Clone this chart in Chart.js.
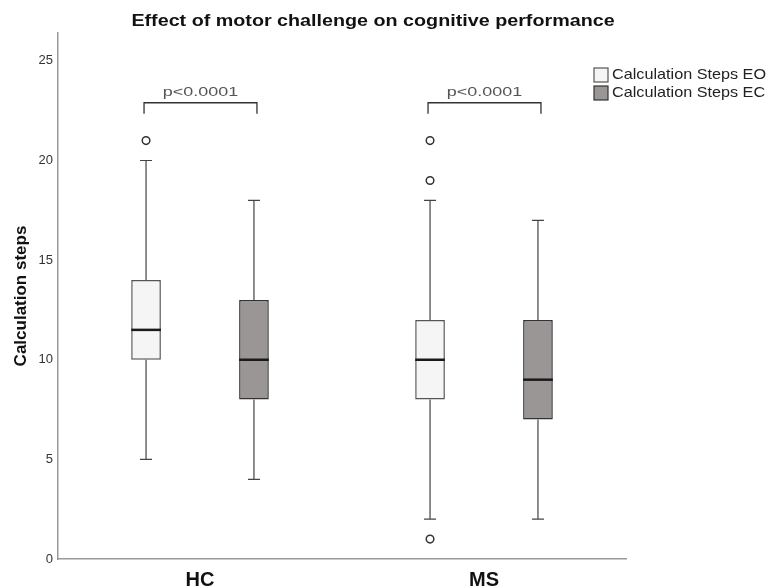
<!DOCTYPE html>
<html lang="en">
<head>
<meta charset="UTF-8">
<title>Effect of motor challenge on cognitive performance</title>
<script src="https://cdn.jsdelivr.net/npm/chart.js"></script>
<style>
    body { margin: 0; background: #fff; }
    #wrap { width: 771px; height: 587px; }
</style>
</head>
<body>
<div id="wrap"><canvas id="boxChart" width="771" height="587"></canvas></div>
<script>
    // groups and series
    const groups = ['HC', 'MS'];
    const seriesNames = ['Calculation Steps EO', 'Calculation Steps EC'];
    const yTicks = [0, 5, 10, 15, 20, 25];
    const pLabels = ['p<0.0001', 'p<0.0001'];

    // box statistics, one value per group (HC, MS)
    const eoLow = [5, 2];
    const eoQ1 = [10, 8];
    const eoMedian = [11.5, 10];
    const eoQ3 = [14, 12];
    const eoHigh = [20, 18];
    const eoOutliers = [[21], [21, 19, 1]];

    const ecLow = [4, 2];
    const ecQ1 = [8, 7];
    const ecMedian = [10, 9];
    const ecQ3 = [13, 12];
    const ecHigh = [18, 17];
    const ecOutliers = [[], []];

    const FONT = 'Arial, "Liberation Sans", sans-serif';

    function boxDataset(label, q1, q3, low, median, high, outliers, fill, border) {
        return {
            label: label,
            data: q1.map((v, i) => [v, q3[i]]),
            backgroundColor: fill,
            borderColor: border,
            borderWidth: 1.5,
            borderSkipped: false,
            categoryPercentage: 0.76,
            barPercentage: 0.275,
            stats: { low: low, median: median, high: high, outliers: outliers }
        };
    }

    // the source picture is a bit wider than tall, so text is stretched sideways
    function wideText(ctx, text, x, y, sx) {
        ctx.save();
        ctx.translate(x, y);
        ctx.scale(sx, 1);
        ctx.fillText(text, 0, 0);
        ctx.restore();
    }

    // whiskers, medians, outliers, brackets, legend and title
    const boxExtras = {
        id: 'boxExtras',
        afterDatasetsDraw(chart) {
            const ctx = chart.ctx;
            const y = chart.scales.y;
            ctx.save();
            chart.data.datasets.forEach((ds, d) => {
                const meta = chart.getDatasetMeta(d);
                meta.data.forEach((bar, i) => {
                    const x = bar.x;
                    const cap = 6;
                    const top = y.getPixelForValue(ds.data[i][1]);
                    const bottom = y.getPixelForValue(ds.data[i][0]);
                    const hi = y.getPixelForValue(ds.stats.high[i]);
                    const lo = y.getPixelForValue(ds.stats.low[i]);
                    ctx.strokeStyle = '#444';
                    ctx.lineWidth = 1.2;
                    ctx.beginPath();
                    ctx.moveTo(x, top); ctx.lineTo(x, hi);
                    ctx.moveTo(x - cap, hi); ctx.lineTo(x + cap, hi);
                    ctx.moveTo(x, bottom); ctx.lineTo(x, lo);
                    ctx.moveTo(x - cap, lo); ctx.lineTo(x + cap, lo);
                    ctx.stroke();

                    const med = y.getPixelForValue(ds.stats.median[i]);
                    ctx.strokeStyle = '#1a1a1a';
                    ctx.lineWidth = 2.5;
                    ctx.beginPath();
                    ctx.moveTo(bar.x - bar.width / 2, med);
                    ctx.lineTo(bar.x + bar.width / 2, med);
                    ctx.stroke();

                    ctx.strokeStyle = '#333';
                    ctx.fillStyle = '#fff';
                    ctx.lineWidth = 1.5;
                    ds.stats.outliers[i].forEach(v => {
                        ctx.beginPath();
                        ctx.arc(x, y.getPixelForValue(v), 3.8, 0, Math.PI * 2);
                        ctx.fill();
                        ctx.stroke();
                    });
                });
            });

            // significance brackets
            const m0 = chart.getDatasetMeta(0), m1 = chart.getDatasetMeta(1);
            groups.forEach((g, i) => {
                const x0 = m0.data[i].x - 2, x1 = m1.data[i].x + 3;
                const yt = y.getPixelForValue(22.9), yb = y.getPixelForValue(22.35);
                ctx.strokeStyle = '#333';
                ctx.lineWidth = 1.3;
                ctx.beginPath();
                ctx.moveTo(x0, yb); ctx.lineTo(x0, yt); ctx.lineTo(x1, yt); ctx.lineTo(x1, yb);
                ctx.stroke();
                ctx.fillStyle = '#555';
                ctx.font = '13px ' + FONT;
                ctx.textAlign = 'center';
                ctx.textBaseline = 'middle';
                wideText(ctx, pLabels[i], (x0 + x1) / 2, y.getPixelForValue(23.4), 1.38);
            });

            // legend
            ctx.font = '15px ' + FONT;
            ctx.textAlign = 'left';
            ctx.textBaseline = 'middle';
            chart.data.datasets.forEach((ds, d) => {
                const cy = 75 + d * 18;
                ctx.fillStyle = ds.backgroundColor;
                ctx.strokeStyle = ds.borderColor;
                ctx.lineWidth = 1.2;
                ctx.fillRect(594, cy - 7, 14, 14);
                ctx.strokeRect(594, cy - 7, 14, 14);
                ctx.fillStyle = '#222';
                wideText(ctx, seriesNames[d], 612, cy, 1.08);
            });

            // title
            ctx.fillStyle = '#111';
            ctx.font = 'bold 17px ' + FONT;
            ctx.textAlign = 'center';
            wideText(ctx, 'Effect of motor challenge on cognitive performance', 373, 21, 1.16);
            ctx.restore();
        }
    };

    new Chart(document.getElementById('boxChart'), {
        type: 'bar',
        data: {
            labels: groups,
            datasets: [
                boxDataset(seriesNames[0], eoQ1, eoQ3, eoLow, eoMedian, eoHigh, eoOutliers, '#f5f5f5', '#555'),
                boxDataset(seriesNames[1], ecQ1, ecQ3, ecLow, ecMedian, ecHigh, ecOutliers, '#9a9695', '#333')
            ]
        },
        options: {
            responsive: false,
            animation: false,
            layout: { padding: { left: 7, top: 33, right: 145, bottom: 0 } },
            plugins: {
                legend: { display: false },
                tooltip: { enabled: false },
                title: { display: false }
            },
            scales: {
                x: {
                    grid: { display: false },
                    border: { color: '#999', width: 1.5 },
                    ticks: { color: '#111', font: { family: FONT, size: 20, weight: 'bold' }, padding: 1 },
                    afterFit(scale) { scale.height = 28; }
                },
                y: {
                    min: 0,
                    max: 26.4,
                    grid: { display: false, drawTicks: false },
                    border: { color: '#999', width: 1.5 },
                    ticks: { color: '#333', font: { family: FONT, size: 13 }, padding: 5 },
                    afterBuildTicks(scale) { scale.ticks = yTicks.map(v => ({ value: v })); },
                    afterFit(scale) { scale.width = 51; },
                    title: {
                        display: true,
                        text: 'Calculation steps',
                        color: '#111',
                        font: { family: FONT, size: 17, weight: 'bold' },
                        padding: 4
                    }
                }
            }
        },
        plugins: [boxExtras]
    });
</script>
</body>
</html>
